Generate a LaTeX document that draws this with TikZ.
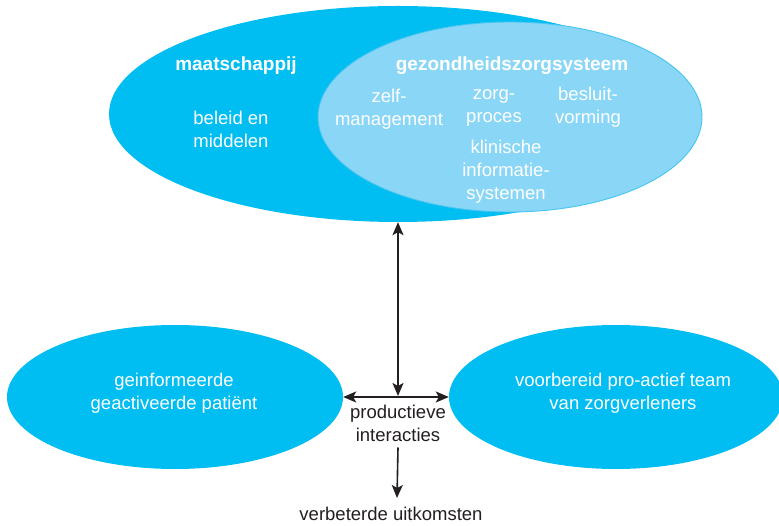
\documentclass[tikz,border=0pt]{standalone}
\usepackage{fontspec}
\setmainfont{Liberation Sans}
\usetikzlibrary{shapes.geometric,arrows.meta}

\definecolor{deepblue}{RGB}{0,189,242}
\definecolor{paleblue}{RGB}{137,214,246}
\definecolor{paleedge}{RGB}{70,198,241}
\definecolor{ink}{RGB}{35,31,32}

\tikzset{
  blob/.style={ellipse, fill=deepblue, draw=none, inner sep=0pt},
  innerblob/.style={ellipse, fill=paleblue, draw=paleedge, line width=0.9pt, inner sep=0pt},
  wlabel/.style={text=white, align=center, inner sep=0pt,
    font=\fontsize{18.5}{23}\selectfont},
  wtitle/.style={wlabel, font=\fontsize{19}{23}\selectfont\bfseries},
  klabel/.style={text=ink, align=center, inner sep=0pt,
    font=\fontsize{18.5}{23}\selectfont},
  arr/.style={draw=ink, line width=1.6pt, -{Stealth[length=13pt,width=11pt,inset=3pt]}},
  biarr/.style={draw=ink, line width=1.6pt,
    {Stealth[length=13pt,width=11pt,inset=3pt]}-{Stealth[length=13pt,width=11pt,inset=3pt]}}
}

\begin{document}
\begin{tikzpicture}[x=1pt,y=-1pt]
\useasboundingbox (0,0) rectangle (779,526);

% society and, inside it, the health care system
\node[blob, minimum width=578pt, minimum height=216pt] (society) at (398,114) {};
\node[innerblob, minimum width=384pt, minimum height=190pt] (care) at (510,117) {};

% patient and care team
\node[blob, minimum width=336pt, minimum height=144pt] (patient) at (175,397) {};
\node[blob, minimum width=334pt, minimum height=144pt] (team) at (616,397) {};

% texts in the upper ellipses
\node[wtitle] (societyT) at (236,66) {maatschappij};
\node[wtitle] (careT) at (512,66) {gezondheidszorgsysteem};
\node[wlabel] (policy) at (231,129) {beleid en\\middelen};
\node[wlabel] (selfmgmt) at (389,109) {zelf-\\management};
\node[wlabel] (process) at (494,108) {zorg-\\proces};
\node[wlabel] (decision) at (588,107) {besluit-\\vorming};
\node[wlabel] (clinical) at (506,172) {klinische\\informatie-\\systemen};

% texts in the lower ellipses
\node[wlabel] (patientT) at (174,393) {geinformeerde\\geactiveerde patiënt};
\node[wlabel] (teamT) at (623,393) {voorbereid pro-actief team\\van zorgverleners};

% interactions and outcomes
\node[klabel] (inter) at (398,423) {productieve\\interacties};
\node[klabel] (outcome) at (391,514) {verbeterde uitkomsten};
\coordinate (hub) at (398,396);

\draw[biarr] (hub) -- (society.south);
\draw[biarr] (patient.east) -- (team.west);
\draw[arr] ([yshift=-6pt]inter.south) -- ([xshift=6pt,yshift=9pt]outcome.north);
\end{tikzpicture}
\end{document}
